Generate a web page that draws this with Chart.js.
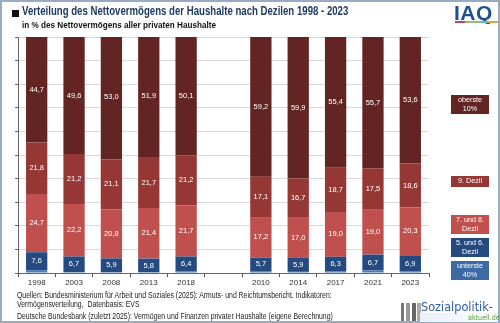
<!DOCTYPE html>
<html>
<head>
  <meta charset="utf-8">
  <script src="https://cdn.jsdelivr.net/npm/chart.js@4.4.1/dist/chart.umd.min.js"></script>
  <style>
    html, body { margin: 0; padding: 0; }
    body { width: 500px; height: 323px; position: relative; overflow: hidden; background: #fff;
           font-family: "Liberation Sans", Arial, sans-serif; }
    #frame { position: absolute; left: 0; top: 0; width: 496px; height: 319px; border: 2px solid #98abc2; }
    #wrap { position: absolute; left: 0; top: 0; width: 500px; height: 323px; }
    .t { position: absolute; white-space: nowrap; transform-origin: 0 0; }
    #title { left: 22px; top: 4px; font-size: 12.5px; font-weight: bold; color: #1f3b63; transform: scaleX(0.77); }
    #bullet { left: 12px; top: 10px; width: 7px; height: 7px; background: #111; }
    #sub { left: 22px; top: 19px; font-size: 9.6px; font-weight: bold; color: #111; transform: scaleX(0.85); }
    .leg { position: absolute; left: 451px; width: 38px; color: #fff; font-size: 7.2px; text-align: center;
           line-height: 8.5px; display: flex; align-items: center; justify-content: center; }
    .foot { left: 17px; font-size: 8.3px; color: #222; transform: scaleX(0.83); }
    #iaq { left: 454px; top: 1px; font-size: 21px; font-weight: bold; color: #1d4f91; letter-spacing: 0.5px; }
    #sozi { left: 421px; top: 299px; font-size: 13px; color: #2a5fa8; font-family: "DejaVu Sans", sans-serif; transform: scaleX(0.87); }
    #akt { left: 468px; top: 313px; font-size: 7.5px; color: #5a9a3a; font-family: "DejaVu Sans", sans-serif; transform: scaleX(0.85); }
  </style>
</head>
<body>
  <div id="wrap"><canvas id="myChart" width="500" height="323"></canvas></div>
  <div id="frame"></div>
  <div class="t" id="bullet"></div>
  <div class="t" id="title">Verteilung des Nettovermögens der Haushalte nach Dezilen 1998 - 2023</div>
  <div class="t" id="sub">in % des Nettovermögens aller privaten Haushalte</div>
  <div class="t" id="iaq">IAQ</div>
  <div class="t" style="left:455px;top:21px;width:10px;height:2px;background:#b0466e"></div>
  <div class="t" style="left:465px;top:21px;width:14px;height:2px;background:#8ec07a"></div>
  <div class="t" style="left:479px;top:21px;width:9px;height:2px;background:#6cb8c0"></div>
  <div class="t" style="left:488px;top:21px;width:10px;height:2px;background:#e8a23a"></div>

  <div class="leg" style="top:95px;height:19px;background:#632523">oberste<br>10%</div>
  <div class="leg" style="top:176px;height:11px;background:#953735">9. Dezil</div>
  <div class="leg" style="top:215px;height:19px;background:#c0504d">7. und 8.<br>Dezil</div>
  <div class="leg" style="top:238px;height:19px;background:#254a80">5. und 6.<br>Dezil</div>
  <div class="leg" style="top:261px;height:19px;background:#3b6aa5">unterste<br>40%</div>

  <div class="t foot" style="top:290px">Quellen: Bundesministerium für Arbeit und Soziales (2025): Armuts- und Reichtumsbericht. Indikatoren:</div>
  <div class="t foot" style="top:299px">Vermögensverteilung,&nbsp; Datenbasis: EVS</div>
  <div class="t foot" style="top:311px">Deutsche Bundesbank (zuletzt 2025): Vermögen und Finanzen privater Haushalte (eigene Berechnung)</div>

  <div class="t" style="left:401px;top:303px;width:20px;height:18px;background:linear-gradient(90deg,#777 0 3px,transparent 3px 5px,#999 5px 9px,transparent 9px 11px,#666 11px 15px,transparent 15px 16px,#aaa 16px 20px)"></div>
  <div class="t" style="left:420px;top:313px;width:78px;height:9px;background:linear-gradient(90deg,#e8f0fa,#fff)"></div>
  <div class="t" id="sozi">Sozialpolitik-</div>
  <div class="t" id="akt">aktuell.de</div>

  <script>
    const years = ['1998', '2003', '2008', '2013', '2018', '', '2010', '2014', '2017', '2021', '2023'];
    const unterste40 = [1.2, 0.3, 0.3, 0.3, 0.6, null, 0.8, 0.5, 0.6, 1.1, 0.6];
    const dezil5und6 = [7.6, 6.7, 5.9, 5.8, 6.4, null, 5.7, 5.9, 6.3, 6.7, 6.9];
    const dezil7und8 = [24.7, 22.2, 20.8, 21.4, 21.7, null, 17.2, 17.0, 19.0, 19.0, 20.3];
    const dezil9 = [21.8, 21.2, 21.1, 21.7, 21.2, null, 17.1, 16.7, 18.7, 17.5, 18.6];
    const oberste10 = [44.7, 49.6, 53.0, 51.9, 50.1, null, 59.2, 59.9, 55.4, 55.7, 53.6];

    // white numbers inside the segments (not for the thin bottom one)
    const segLabels = {
      id: 'segLabels',
      afterDatasetsDraw(chart) {
        const ctx = chart.ctx
        ctx.save()
        ctx.fillStyle = '#fff'
        ctx.font = '7.5px "Liberation Sans", Arial, sans-serif'
        ctx.textAlign = 'center'
        ctx.textBaseline = 'middle'
        chart.data.datasets.forEach((ds, i) => {
          if (i === 0) return
          chart.getDatasetMeta(i).data.forEach((bar, j) => {
            const v = ds.data[j]
            if (v == null) return
            const y = (bar.y + bar.base) / 2
            ctx.fillText(v.toFixed(1).replace('.', ','), bar.x, y)
          })
        })
        ctx.restore()
      }
    }

    const ctx = document.getElementById('myChart').getContext('2d')
    const chart = new Chart(ctx, {
      type: 'bar',
      data: {
        labels: years,
        datasets: [
          { label: 'unterste 40%', data: unterste40, backgroundColor: '#4a7bba' },
          { label: '5. und 6. Dezil', data: dezil5und6, backgroundColor: '#254a80' },
          { label: '7. und 8. Dezil', data: dezil7und8, backgroundColor: '#c0504d' },
          { label: '9. Dezil', data: dezil9, backgroundColor: '#953735' },
          { label: 'oberste 10%', data: oberste10, backgroundColor: '#632523' }
        ]
      },
      options: {
        responsive: false,
        animation: false,
        layout: { padding: { left: 14, right: 71, top: 37, bottom: 34 } },
        plugins: { legend: { display: false }, tooltip: { enabled: false } },
        datasets: { bar: { barPercentage: 0.57, categoryPercentage: 1 } },
        scales: {
          x: {
            stacked: true,
            grid: { display: true, drawOnChartArea: false, drawTicks: true, tickLength: 4, color: '#555', offset: true },
            border: { color: '#666' },
            ticks: { color: '#333', font: { size: 8, family: '"Liberation Sans", Arial, sans-serif' }, padding: 1, maxRotation: 0, autoSkip: false },
            afterFit: s => { s.height = 16 }
          },
          y: {
            stacked: true,
            min: 0, max: 100,
            grid: { color: '#d9d9d9', tickLength: 3, tickColor: '#666' },
            border: { color: '#666' },
            ticks: { stepSize: 10, display: false },
            afterFit: s => { s.width = 4 }
          }
        }
      },
      plugins: [segLabels]
    })
  </script>
</body>
</html>
